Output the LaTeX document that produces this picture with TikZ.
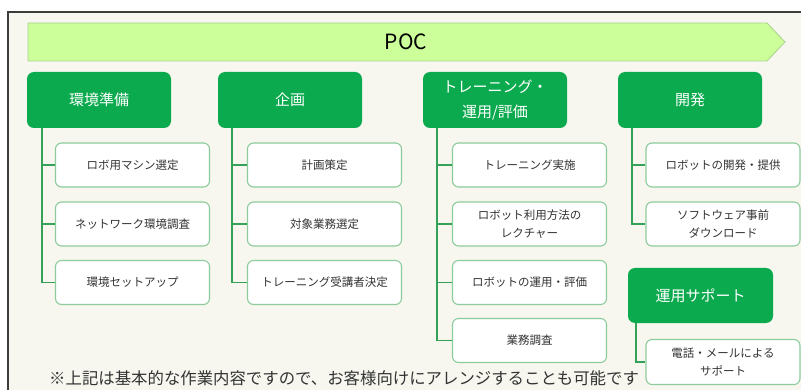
\documentclass[tikz,border=0pt]{standalone}
\usepackage{fontspec}
\setmainfont{Noto Sans CJK JP}
\usetikzlibrary{positioning}

\definecolor{headgreen}{RGB}{12,170,78}
\definecolor{barfill}{RGB}{204,255,153}
\definecolor{barline}{RGB}{170,208,142}
\definecolor{boxline}{RGB}{140,203,155}
\definecolor{linegreen}{RGB}{52,160,88}
\definecolor{cream}{RGB}{247,247,240}
\definecolor{frameline}{RGB}{60,60,60}
\definecolor{textgray}{RGB}{51,51,51}

\tikzset{
  header/.style={fill=headgreen, rounded corners=7pt, minimum width=144pt, minimum height=56pt,
    text=white, align=center, font=\fontsize{15}{25}\selectfont, inner sep=0pt},
  task/.style={draw=boxline, line width=1.1pt, fill=white, rounded corners=6pt,
    minimum width=154pt, minimum height=44pt, text=textgray, align=center,
    font=\fontsize{11.5}{18}\selectfont, inner sep=0pt},
  conn/.style={draw=linegreen, line width=1.4pt}
}

\begin{document}
\begin{tikzpicture}[x=1pt,y=-1pt]
    \useasboundingbox (0,0) rectangle (801,390);
    \fill[white] (0,0) rectangle (801,390);
    \fill[cream] (8,12) rectangle (801,390);
    \draw[frameline, line width=2pt] (8,390) -- (8,12) -- (801,12);

    % POC bar
    \draw[fill=barfill, draw=barline, line width=0.8pt]
        (28,23) -- (767,23) -- (785,42) -- (767,61) -- (28,61) -- cycle;
    \node[font=\fontsize{21}{21}\selectfont, text=black] (poc) at (406,42) {POC};

    % headers
    \node[header] (kankyo) at (99,100) {環境準備};
    \node[header] (kikaku) at (290,100) {企画};
    \node[header] (training) at (495,100) {トレーニング・\\運用/評価};
    \node[header] (kaihatsu) at (690,100) {開発};
    \node[header, minimum width=145pt, minimum height=55pt] (support) at (700.5,295.5) {運用サポート};

    % tasks
    \node[task] (k1) at (132.5,165) {ロボ用マシン選定};
    \node[task] (k2) at (132.5,224) {ネットワーク環境調査};
    \node[task] (k3) at (132.5,282.5) {環境セットアップ};

    \node[task] (p1) at (324.5,165) {計画策定};
    \node[task] (p2) at (324.5,224) {対象業務選定};
    \node[task] (p3) at (324.5,282.5) {トレーニング受講者決定};

    \node[task] (t1) at (529.5,165) {トレーニング実施};
    \node[task] (t2) at (529.5,224) {ロボット利用方法の\\レクチャー};
    \node[task] (t3) at (529.5,282.5) {ロボットの運用・評価};
    \node[task] (t4) at (529.5,340.5) {業務調査};

    \node[task] (d1) at (723,165) {ロボットの開発・提供};
    \node[task] (d2) at (723,224) {ソフトウェア事前\\ダウンロード};

    \node[task, minimum height=45pt] (s1) at (723,362) {電話・メールによる\\サポート};

    % connectors
    \coordinate (kt) at (42,128);
    \draw[conn] (kt) |- (k3.west);
    \draw[conn] (kt |- k1.west) -- (k1.west);
    \draw[conn] (kt |- k2.west) -- (k2.west);

    \coordinate (pt) at (232,128);
    \draw[conn] (pt) |- (p3.west);
    \draw[conn] (pt |- p1.west) -- (p1.west);
    \draw[conn] (pt |- p2.west) -- (p2.west);

    \coordinate (tt) at (437,128);
    \draw[conn] (tt) |- (t4.west);
    \draw[conn] (tt |- t1.west) -- (t1.west);
    \draw[conn] (tt |- t2.west) -- (t2.west);
    \draw[conn] (tt |- t3.west) -- (t3.west);

    \coordinate (dt) at (632,128);
    \draw[conn] (dt) |- (d2.west);
    \draw[conn] (dt |- d1.west) -- (d1.west);

    \coordinate (st) at (636,323);
    \draw[conn] (st) |- (s1.west);

    % note
    \node[anchor=west, text=textgray, font=\fontsize{16.4}{17}\selectfont, inner sep=0pt] (note) at (49,378)
        {※上記は基本的な作業内容ですので、お客様向けにアレンジすることも可能です};
\end{tikzpicture}
\end{document}
